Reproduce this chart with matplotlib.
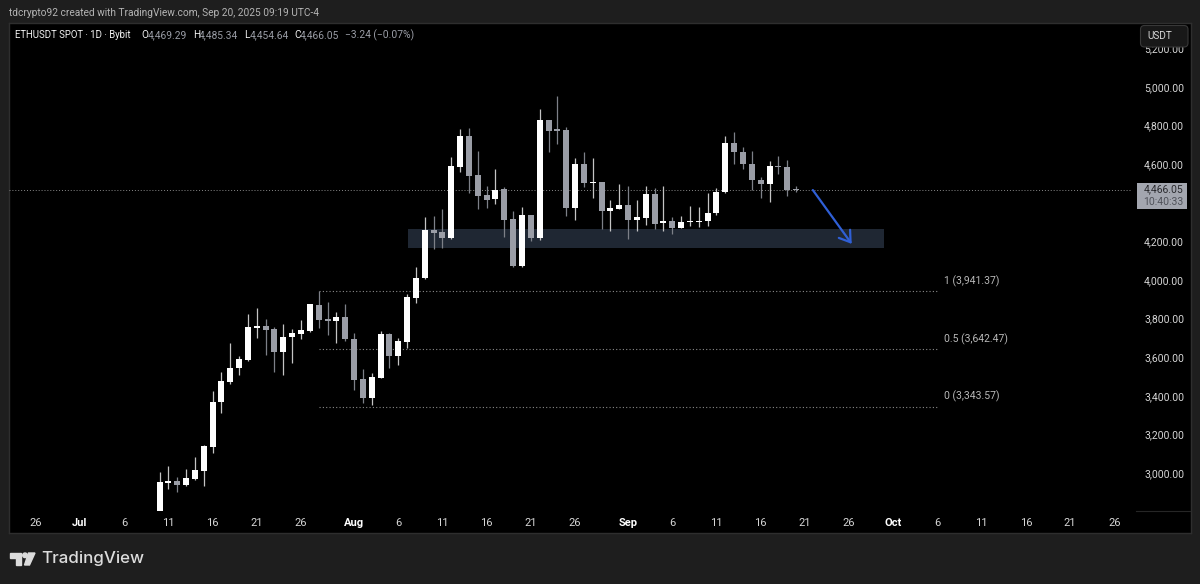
import matplotlib
matplotlib.use('Agg')
import matplotlib.pyplot as plt
from matplotlib.patches import Rectangle, Polygon, FancyBboxPatch
import numpy as np

plt.rcParams['font.family'] = ['Roboto', 'DejaVu Sans']

# day number, 0 = Jul 1
first_day = 9
opens = [2790, 2950, 2960, 2940, 2969, 3012, 3137, 3366, 3473, 3542, 3586, 3751, 3762, 3744, 3625, 3705, 3720, 3737,
         3872, 3798, 3789, 3810, 3696, 3485, 3390, 3494, 3720, 3608, 3680, 3908, 4009, 4259, 4249, 4218, 4586, 4748,
         4544, 4439, 4418, 4470, 4314, 4073, 4335, 4219, 4831, 4781, 4777, 4373, 4601, 4501, 4510, 4356, 4370, 4389,
         4311, 4321, 4447, 4294, 4304, 4269, 4301, 4301, 4304, 4345, 4456, 4710, 4663, 4603, 4520, 4497, 4592, 4585,
         4469.29]
highs = [3004, 3038, 2981, 3021, 3083, 3145, 3425, 3523, 3672, 3606, 3824, 3855, 3798, 3758, 3772, 3744, 3791, 3876,
         3941, 3886, 3832, 3876, 3724, 3539, 3520, 3737, 3724, 3698, 3927, 4069, 4325, 4332, 4366, 4637, 4782, 4786,
         4668, 4489, 4575, 4480, 4356, 4377, 4335, 4886, 4831, 4955, 4795, 4630, 4663, 4632, 4510, 4414, 4496, 4489,
         4414, 4489, 4477, 4489, 4325, 4333, 4382, 4377, 4449, 4477, 4746, 4765, 4687, 4667, 4535, 4615, 4641, 4620,
         4485.34]
lows = [2780, 2915, 2903, 2934, 2964, 2933, 3102, 3313, 3459, 3508, 3579, 3700, 3613, 3523, 3508, 3572, 3696, 3732,
        3751, 3713, 3672, 3684, 3430, 3364, 3352, 3491, 3544, 3561, 3648, 3879, 4005, 4159, 4168, 4214, 4561, 4449,
        4366, 4375, 4394, 4221, 4066, 4066, 4204, 4209, 4663, 4706, 4332, 4311, 4480, 4427, 4266, 4256, 4366, 4211,
        4256, 4283, 4264, 4256, 4238, 4268, 4280, 4276, 4282, 4339, 4451, 4603, 4575, 4466, 4423, 4402, 4551, 4434,
        4454.64]
closes = [2952, 2959, 2938, 2972, 3014, 3138, 3368, 3475, 3544, 3591, 3755, 3762, 3741, 3625, 3706, 3724, 3741, 3874,
          3793, 3789, 3810, 3693, 3484, 3390, 3496, 3720, 3608, 3682, 3910, 4009, 4259, 4245, 4218, 4589, 4748, 4541,
          4435, 4416, 4468, 4311, 4073, 4335, 4219, 4831, 4774, 4774, 4375, 4601, 4501, 4510, 4356, 4373, 4389, 4313,
          4325, 4447, 4292, 4306, 4271, 4301, 4304, 4307, 4347, 4458, 4710, 4663, 4601, 4518, 4497, 4589, 4585, 4466,
          4466.05]

price_ticks = [5200, 5000, 4800, 4600, 4200, 4000, 3800, 3600, 3400, 3200, 3000]
date_ticks = [-5, 0, 5, 10, 15, 20, 25, 31, 36, 41, 46, 51, 56, 62, 67, 72, 77, 82, 87, 92, 97, 102, 107, 112, 117]
date_labels = ['26', 'Jul', '6', '11', '16', '21', '26', 'Aug', '6', '11', '16', '21', '26', 'Sep', '6', '11', '16',
               '21', '26', 'Oct', '6', '11', '16', '21', '26']
month_labels = ['Jul', 'Aug', 'Sep', 'Oct']

last_price = 4466.05
fib_levels = [3941.37, 3642.47, 3343.57]
fib_labels = ['1 (3,941.37)', '0.5 (3,642.47)', '0 (3,343.57)']
fib_days = (27, 97)
zone_days = (37.1, 91.0)
zone_prices = (4166, 4264)
arrow_start = (82.9, 4466)
arrow_end = (87.3, 4187)

W, H = 1200, 584
up_col = '#ffffff'
down_col = '#9a9da6'
text_col = '#d6d6d6'

fig = plt.figure(figsize=(W / 100, H / 100), dpi=100, facecolor='#1e1e1e')

# black panel behind the price and time scales
panel = fig.add_axes([9 / W, 1 - 533 / H, (1191 - 9) / W, (533 - 23) / H], zorder=0)
panel.set_facecolor('#000000')
panel.set_xticks([])
panel.set_yticks([])
for s in panel.spines.values():
    s.set_color('#2e2e2e')
    s.set_linewidth(1)

ax = fig.add_axes([9 / W, 1 - 511 / H, (1131 - 9) / W, (511 - 23) / H], zorder=1)
ax.patch.set_alpha(0)
ax.set_xlim((9 - 80) / 8.84, (1131 - 80) / 8.84)
ax.set_ylim(5000 - (511 - 87) / 0.193, 5000 + (87 - 23) / 0.193)
for s in ax.spines.values():
    s.set_visible(False)

days = first_day + np.arange(len(opens))
opens = np.array(opens)
closes = np.array(closes)
rising = closes >= opens

ax.add_patch(Rectangle((zone_days[0], zone_prices[0]), zone_days[1] - zone_days[0], zone_prices[1] - zone_prices[0],
                       facecolor='#1f2733', edgecolor='none', zorder=1))
ax.axhline(last_price, color='#8a8a8a', lw=0.7, ls=(0, (1, 2)), zorder=1.5)
ax.hlines(fib_levels, fib_days[0], fib_days[1], color='#8a8a8a', lw=0.8, ls=(0, (1, 2)), zorder=1.5)
for lvl, lab in zip(fib_levels, fib_labels):
    ax.annotate(lab, (fib_days[1], lvl), xytext=(7, 10), textcoords='offset pixels', color='#b8b8b8', fontsize=7.5,
                va='center', ha='left')

ax.vlines(days[rising], np.array(lows)[rising], np.array(highs)[rising], color='#c4c4c4', lw=0.9, zorder=2)
ax.vlines(days[~rising], np.array(lows)[~rising], np.array(highs)[~rising], color='#7d8088', lw=0.9, zorder=2)
ax.bar(days[rising], (closes - opens)[rising], bottom=opens[rising], width=0.68, color=up_col, zorder=3)
ax.bar(days[~rising], (closes - opens)[~rising], bottom=opens[~rising], width=0.68, color=down_col, zorder=3)

ax.annotate('', xy=arrow_end, xytext=arrow_start, zorder=4,
            arrowprops=dict(arrowstyle='->,head_length=0.75,head_width=0.5', color='#2f5fd6', lw=1.6,
                            mutation_scale=10, shrinkA=0, shrinkB=0))

ax.yaxis.tick_right()
ax.set_yticks(price_ticks)
ax.set_yticklabels(['{:,.2f}'.format(p) for p in price_ticks])
ax.tick_params(axis='y', length=0, pad=9.4, labelsize=7.5, labelcolor=text_col)
ax.set_xticks(date_ticks)
ax.set_xticklabels(date_labels)
ax.tick_params(axis='x', length=0, pad=5, labelsize=8, labelcolor=text_col)
for t in ax.get_xticklabels():
    if t.get_text() in month_labels:
        t.set_color('#ffffff')
        t.set_fontweight('bold')

# overlay in pixel coordinates for the chrome around the chart
top = fig.add_axes([0, 0, 1, 1], zorder=5)
top.set_xlim(0, W)
top.set_ylim(H, 0)
top.axis('off')

top.plot([1136, 1190], [510.5, 510.5], color='#262626', lw=0.8)

top.text(9, 13, 'tdcrypto92 created with TradingView.com, Sep 20, 2025 09:19 UTC-4', color='#b4b4b4', fontsize=7.3,
         va='center')
top.text(15, 35.5, 'ETHUSDT SPOT · 1D · Bybit', color='#f0f0f0', fontsize=6.9, va='center')
for x, letter, xv, val in [(141.5, 'O', 148, '4,469.29'), (193, 'H', 199, '4,485.34'),
                           (244, 'L', 250, '4,454.64'), (294, 'C', 300, '4,466.05')]:
    top.text(x, 35.5, letter, color='#f0f0f0', fontsize=7.2, va='center')
    top.text(xv, 35.5, val, color='#9a9da6', fontsize=7.4, va='center')
top.text(345, 35.5, '−3.24 (−0.07%)', color='#9a9da6', fontsize=7.4, va='center')

top.add_patch(FancyBboxPatch((1140.5, 25.5), 47.5, 21.5, boxstyle='round,pad=0,rounding_size=4', facecolor='#181818',
                             edgecolor='#383838', lw=0.8))
top.text(1147, 36, 'USDT', color='#d6d6d6', fontsize=7.2, va='center')

top.add_patch(Rectangle((1137, 183), 50, 26, facecolor='#a3a6af', edgecolor='none'))
top.text(1183, 189.5, '4,466.05', color='#2a2a2e', fontsize=7.5, va='center', ha='right')
top.text(1183, 202, '10:40:33', color='#50525a', fontsize=7.5, va='center', ha='right')

logo_col = '#dcdcdc'
top.add_patch(Polygon([(10, 553), (21, 553), (21, 565), (15.5, 565), (15.5, 558), (10, 558)], color=logo_col))
top.add_patch(plt.Circle((25, 555.3), 2.3, color=logo_col))
top.add_patch(Polygon([(28.5, 553), (35, 553), (29.5, 565), (24.5, 565)], color=logo_col))
top.text(41, 559, 'TradingView', color=logo_col, fontsize=12.2, fontweight='medium', family='Inter', va='center')

fig.savefig('out.png', dpi=100, facecolor=fig.get_facecolor())
